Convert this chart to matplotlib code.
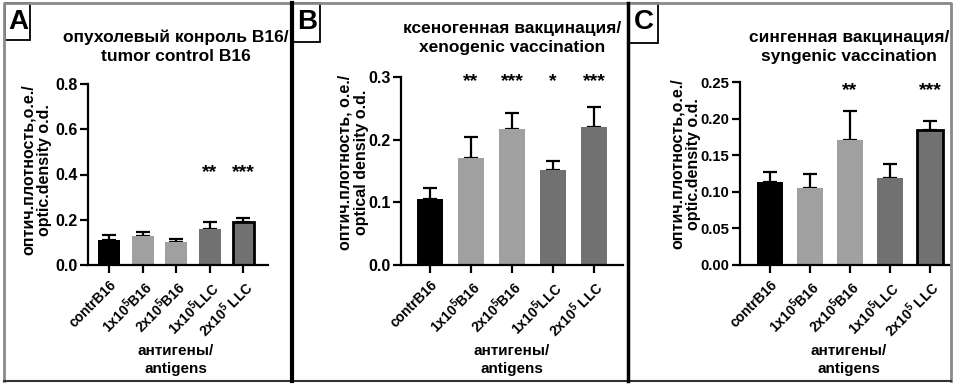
import matplotlib
matplotlib.use('Agg')
import matplotlib.pyplot as plt
from matplotlib.patches import Rectangle
from matplotlib.lines import Line2D

plt.rcParams['font.family'] = ['Liberation Sans', 'DejaVu Sans']
plt.rcParams['font.weight'] = 'bold'
plt.rcParams['mathtext.fontset'] = 'custom'
plt.rcParams['mathtext.rm'] = 'Liberation Sans'
plt.rcParams['mathtext.default'] = 'rm'

# data
groups = ['contrB16', '1x10$^5$B16', '2x10$^5$B16', '1x10$^5$LLC', '2x10$^5$ LLC']
colors = ['#000000', '#a0a0a0', '#a0a0a0', '#717171', '#717171']

mean_a = [0.110, 0.127, 0.101, 0.160, 0.191]
err_a = [0.022, 0.021, 0.014, 0.028, 0.017]
stars_a = ['', '', '', '**', '***']

mean_b = [0.105, 0.170, 0.217, 0.152, 0.220]
err_b = [0.018, 0.035, 0.026, 0.014, 0.032]
stars_b = ['', '**', '***', '*', '***']

mean_c = [0.113, 0.105, 0.171, 0.119, 0.185]
err_c = [0.014, 0.019, 0.040, 0.019, 0.012]
stars_c = ['', '', '**', '', '***']

W, H = 954, 385
fig = plt.figure(figsize=(W / 100, H / 100), dpi=100)


def fx(x):
    return x / W


def fy(y):
    return 1 - y / H


def panel(box, mean, err, stars, ymax, yticks, fmt, tick_fs, star_y, edged, xlim,
          ylab, title, tcx, tcy, lcx, lcy):
    # box = (left, top, right, bottom) in pixels
    l, t, r, b = box
    ax = fig.add_axes([fx(l), fy(b), (r - l) / W, (b - t) / H])
    x = range(len(mean))
    bars = ax.bar(x, mean, width=0.65, color=colors, zorder=2)
    if edged:
        bars[-1].set_edgecolor('black')
        bars[-1].set_linewidth(2)
    ax.errorbar(x, mean, yerr=[[0] * len(err), err], fmt='none', ecolor='black',
                elinewidth=1.6, capsize=5, capthick=1.6, zorder=1)
    for i, s in enumerate(stars):
        if s:
            ax.text(i, star_y, s, ha='center', va='center', fontsize=14)
    ax.set_ylim(0, ymax)
    ax.set_xlim(*xlim)
    ax.set_yticks(yticks)
    ax.set_yticklabels([fmt.format(v) for v in yticks], fontsize=tick_fs)
    ax.set_xticks(list(x))
    ax.set_xticklabels(groups, rotation=45, ha='right', rotation_mode='anchor',
                       fontsize=10)
    for side in ['top', 'right']:
        ax.spines[side].set_visible(False)
    for side in ['left', 'bottom']:
        ax.spines[side].set_linewidth(1.6)
    ax.tick_params(width=1.6, length=6)
    ax.tick_params(axis='y', pad=1.5)
    fig.text(fx(tcx), fy(tcy), title, ha='center', va='center', fontsize=12.5,
             linespacing=1.3)
    fig.text(fx(lcx), fy(lcy), ylab, ha='center', va='center', rotation=90,
             fontsize=11.5, linespacing=1.1)
    fig.text(fx(tcx), fy(360), 'антигены/\nantigens', ha='center', va='center',
             fontsize=11, linespacing=1.4)
    return ax


panel((88, 84, 268, 265), mean_a, err_a, stars_a, 0.8, [0, 0.2, 0.4, 0.6, 0.8],
      '{:.1f}', 11.5, 0.41, True, (-0.625, 4.73),
      'оптич.плотность,о.е./\noptic.density o.d.',
      'опухолевый конроль B16/\ntumor control B16', 176, 47, 36, 170)
panel((401, 77, 623, 265), mean_b, err_b, stars_b, 0.3, [0, 0.1, 0.2, 0.3],
      '{:.1f}', 11.5, 0.293, False, (-0.71, 4.71),
      'оптич.плотность, о.е./\noptical density o.d.',
      'ксеногенная вакцинация/\nxenogenic vaccination', 512, 38, 353, 162)
panel((740, 82, 950, 265), mean_c, err_c, stars_c, 0.25,
      [0, 0.05, 0.10, 0.15, 0.20, 0.25], '{:.2f}', 10.7, 0.238, True, (-0.75, 4.5),
      'оптич.плотность,о.е./\noptic.density o.d.',
      'сингенная вакцинация/\nsyngenic vaccination', 849, 47, 685, 164)

# frame around the whole figure and separators between panels
fig.add_artist(Line2D([fx(4), fx(4), fx(951), fx(951)], [fy(381), fy(3), fy(3), fy(381)],
                      transform=fig.transFigure, color='#8a8a8a', lw=2))
fig.add_artist(Line2D([fx(4), fx(951)], [fy(381), fy(381)],
                      transform=fig.transFigure, color='#333333', lw=1.5))
fig.add_artist(Line2D([fx(292), fx(292)], [fy(3), fy(381)],
                      transform=fig.transFigure, color='black', lw=3))
fig.add_artist(Line2D([fx(628), fx(628)], [fy(3), fy(381)],
                      transform=fig.transFigure, color='black', lw=2.5))

# panel letters in small boxes
for letter, bx0, bx1, by1 in [('A', 5, 30, 40), ('B', 292, 320, 42), ('C', 628, 658, 43)]:
    fig.add_artist(Rectangle((fx(bx0), fy(by1)), (bx1 - bx0) / W, (by1 - 3) / H,
                             transform=fig.transFigure, fill=False,
                             edgecolor='black', lw=1.3))
    fig.text(fx((bx0 + bx1) / 2 + 1), fy(22), letter, ha='center', va='center',
             fontsize=20)

fig.savefig('out.png', dpi=100)
